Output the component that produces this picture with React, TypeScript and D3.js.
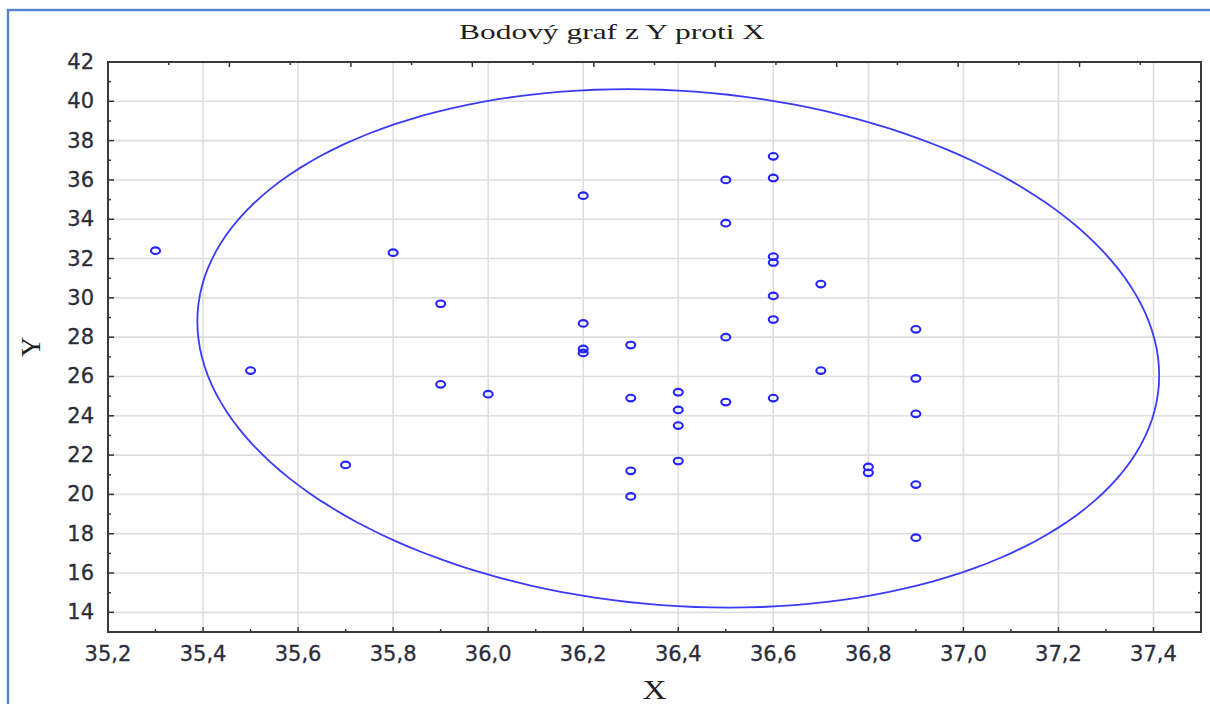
import React from "react";
import * as d3 from "d3";

// Scatter data: X (rounded to 0.1) and Y values
const xValues = [
  35.3, 35.5, 35.7, 35.8, 35.9, 35.9, 36.0,
  36.2, 36.2, 36.2, 36.2,
  36.3, 36.3, 36.3, 36.3,
  36.4, 36.4, 36.4, 36.4,
  36.5, 36.5, 36.5, 36.5,
  36.6, 36.6, 36.6, 36.6, 36.6, 36.6, 36.6,
  36.7, 36.7,
  36.8, 36.8,
  36.9, 36.9, 36.9, 36.9, 36.9,
];
const yValues = [
  32.4, 26.3, 21.5, 32.3, 29.7, 25.6, 25.1,
  35.2, 28.7, 27.4, 27.2,
  27.6, 24.9, 21.2, 19.9,
  25.2, 24.3, 23.5, 21.7,
  36.0, 33.8, 28.0, 24.7,
  37.2, 36.1, 32.1, 31.8, 30.1, 28.9, 24.9,
  30.7, 26.3,
  21.4, 21.1,
  28.4, 25.9, 24.1, 20.5, 17.8,
];

// Axis tick values and labels
const xTicks = [35.2, 35.4, 35.6, 35.8, 36.0, 36.2, 36.4, 36.6, 36.8, 37.0, 37.2, 37.4];
const xMinorTicks = [35.3, 35.5, 35.7, 35.9, 36.1, 36.3, 36.5, 36.7, 36.9, 37.1, 37.3];
const yTicks = [14, 16, 18, 20, 22, 24, 26, 28, 30, 32, 34, 36, 38, 40, 42];
const yMinorTicks = [15, 17, 19, 21, 23, 25, 27, 29, 31, 33, 35, 37, 39, 41];
const topTicks = d3.range(0, 19);

// Normal ellipse: centre, half extents along X and Y, correlation
const ellipseCenter = [36.4, 27.43];
const ellipseHalfX = 1.012;
const ellipseHalfY = 13.19;
const ellipseCorr = -0.104;

const title = "Bodový graf z Y proti X";
const xLabel = "X";
const yLabel = "Y";

const W = 1210;
const H = 704;
const L = 108, R = 1201, T = 62, B = 632;

export default function App() {
  const x = d3.scaleLinear().domain([35.2, 37.5]).range([L, R]);
  const y = d3.scaleLinear().domain([13, 42]).range([B, T]);
  const xTop = d3.scaleLinear().domain([0, 18]).range([L, R]);

  const ellipsePts: [number, number][] = d3.range(0, 361, 2).map((deg) => {
    const t = (deg * Math.PI) / 180;
    const ex = ellipseCenter[0] + ellipseHalfX * Math.cos(t);
    const ey =
      ellipseCenter[1] +
      ellipseHalfY * (ellipseCorr * Math.cos(t) + Math.sqrt(1 - ellipseCorr * ellipseCorr) * Math.sin(t));
    return [x(ex), y(ey)];
  });
  const ellipsePath = d3.line().curve(d3.curveLinearClosed)(ellipsePts) || "";

  const tickColor = "#333";
  const labelColor = "#2b2d3a";
  const blue = "#2424ff";

  return (
    <svg width={W} height={H} style={{ position: "absolute", left: 0, top: 0, background: "#fff" }}>
      <rect x={0} y={0} width={W} height={H} fill="#fff" />
      {/* outer frame */}
      <rect x={8} y={10} width={1230} height={720} fill="none" stroke="#5584c8" strokeWidth={2.4} />

      {/* title */}
      <text
        x={612}
        y={39}
        textAnchor="middle"
        fontFamily="'Liberation Serif', 'Times New Roman', serif"
        fontSize={22}
        fill="#1e1e1e"
        textLength={306}
        lengthAdjust="spacingAndGlyphs"
      >
        {title}
      </text>

      {/* grid */}
      <g stroke="#dedede" strokeWidth={1.6}>
        {xTicks.filter((v) => v > 35.25).map((v) => (
          <line key={"gx" + v} x1={x(v)} x2={x(v)} y1={T} y2={B} />
        ))}
        {yTicks.filter((v) => v < 41.9).map((v) => (
          <line key={"gy" + v} x1={L} x2={R} y1={y(v)} y2={y(v)} />
        ))}
      </g>

      {/* ticks (inward) */}
      <g stroke={tickColor} strokeWidth={1.5}>
        {xTicks.map((v) => (
          <line key={"tx" + v} x1={x(v)} x2={x(v)} y1={B} y2={B - 5} />
        ))}
        {xMinorTicks.map((v) => (
          <line key={"tmx" + v} x1={x(v)} x2={x(v)} y1={B} y2={B - 3} />
        ))}
        {yTicks.map((v) => (
          <g key={"ty" + v}>
            <line x1={L} x2={L + 6} y1={y(v)} y2={y(v)} />
            <line x1={R} x2={R - 6} y1={y(v)} y2={y(v)} />
          </g>
        ))}
        {yMinorTicks.map((v) => (
          <g key={"tmy" + v}>
            <line x1={L} x2={L + 3} y1={y(v)} y2={y(v)} />
            <line x1={R} x2={R - 3} y1={y(v)} y2={y(v)} />
          </g>
        ))}
        {topTicks.map((v) => (
          <line key={"tt" + v} x1={xTop(v)} x2={xTop(v)} y1={T} y2={T + (v % 2 === 0 ? 5 : 3)} />
        ))}
      </g>

      {/* plot frame */}
      <rect x={L} y={T} width={R - L} height={B - T} fill="none" stroke="#3a3a3a" strokeWidth={2} />

      {/* tick labels */}
      <g fontFamily="'DejaVu Sans', sans-serif" fontSize={21} fill={labelColor} stroke={labelColor} strokeWidth={0.3}>
        {xTicks.map((v) => (
          <text key={"lx" + v} x={x(v)} y={661} textAnchor="middle">
            {v.toFixed(1).replace(".", ",")}
          </text>
        ))}
        {yTicks.map((v) => (
          <text key={"ly" + v} x={94} y={y(v)} textAnchor="end" dominantBaseline="central">
            {String(v)}
          </text>
        ))}
      </g>

      {/* axis titles */}
      <text
        x={(L + R) / 2}
        y={699}
        textAnchor="middle"
        fontFamily="'Liberation Serif', 'Times New Roman', serif"
        fontSize={27}
        fill="#1e1e1e"
        textLength={24}
        lengthAdjust="spacingAndGlyphs"
      >
        {xLabel}
      </text>
      <text
        transform={`translate(40, ${(T + B) / 2}) rotate(-90)`}
        textAnchor="middle"
        fontFamily="'Liberation Serif', 'Times New Roman', serif"
        fontSize={28}
        fill="#1e1e1e"
      >
        {yLabel}
      </text>

      {/* ellipse */}
      <path d={ellipsePath} fill="none" stroke="#3b3bf5" strokeWidth={1.8} />

      {/* points */}
      <g fill="none" stroke={blue} strokeWidth={2.1}>
        {xValues.map((xv, i) => (
          <ellipse key={"p" + i} cx={x(xv)} cy={y(yValues[i])} rx={4.5} ry={3.3} />
        ))}
      </g>
    </svg>
  );
}
